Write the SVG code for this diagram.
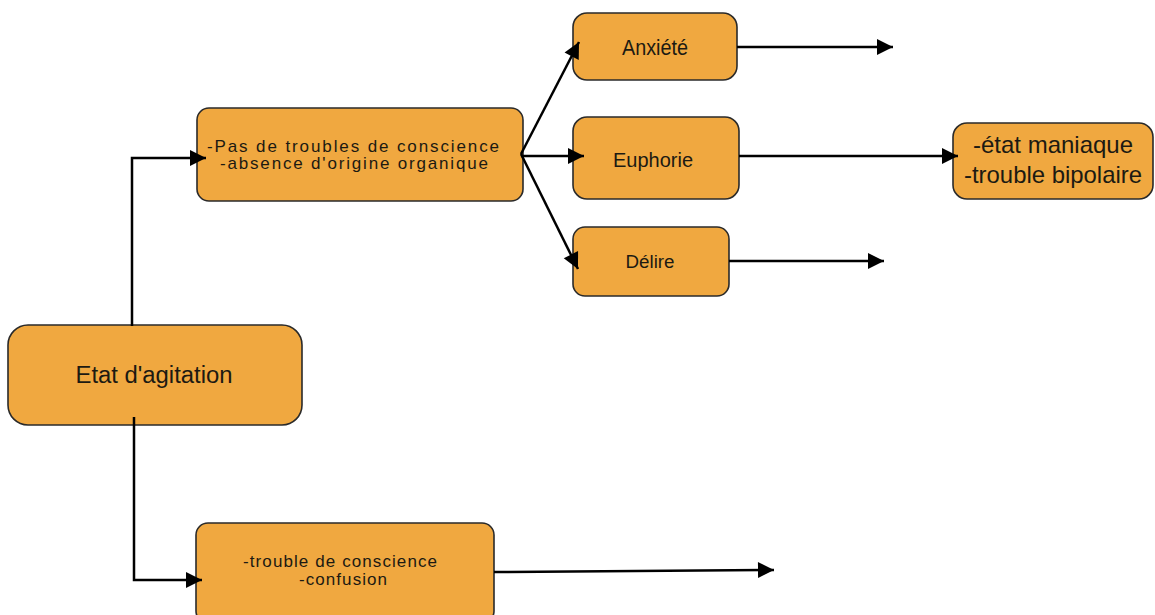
<svg xmlns="http://www.w3.org/2000/svg" width="1155" height="615" viewBox="0 0 1155 615">
  <style>
    .box { fill: #f0a840; stroke: #2a2a2a; stroke-width: 1.6; }
    .lbl { font-family: "Liberation Sans", Arial, sans-serif; fill: #1c1a12; text-anchor: middle; }
    .link { fill: none; stroke: #000; stroke-width: 2.5; }
  </style>
  <defs>
    <marker id="arrow" markerUnits="userSpaceOnUse" markerWidth="18" markerHeight="18" refX="16" refY="8" orient="auto" overflow="visible">
      <path d="M0,0 L16,8 L0,16 z" fill="#000"/>
    </marker>
  </defs>

  <rect width="1155" height="615" fill="#fff"/>

  <!-- root node -->
  <g id="node-agitation">
    <rect class="box" x="8" y="325" width="294" height="100" rx="20"/>
    <text class="lbl" x="154" y="383" font-size="23" textLength="157" lengthAdjust="spacingAndGlyphs">Etat d'agitation</text>
  </g>

  <g id="node-sans-trouble">
    <rect class="box" x="197" y="108" width="326" height="93" rx="12"/>
    <text class="lbl" x="353" y="152" font-size="17" textLength="292" lengthAdjust="spacing">-Pas de troubles de conscience</text>
    <text class="lbl" x="354" y="169" font-size="17" textLength="268" lengthAdjust="spacing">-absence d'origine organique</text>
  </g>

  <g id="node-anxiete">
    <rect class="box" x="573" y="13" width="164" height="67" rx="14"/>
    <text class="lbl" x="655" y="55" font-size="22" textLength="66" lengthAdjust="spacingAndGlyphs">Anxiété</text>
  </g>

  <g id="node-euphorie">
    <rect class="box" x="573" y="117" width="166" height="82" rx="14"/>
    <text class="lbl" x="653" y="167" font-size="21" textLength="80" lengthAdjust="spacingAndGlyphs">Euphorie</text>
  </g>

  <g id="node-delire">
    <rect class="box" x="573" y="227" width="156" height="69" rx="12"/>
    <text class="lbl" x="650" y="268" font-size="18" textLength="49" lengthAdjust="spacingAndGlyphs">Délire</text>
  </g>

  <g id="node-maniaque">
    <rect class="box" x="953" y="123" width="200" height="76" rx="14"/>
    <text class="lbl" x="1053" y="153" font-size="24" textLength="160" lengthAdjust="spacingAndGlyphs">-état maniaque</text>
    <text class="lbl" x="1053" y="183" font-size="24" textLength="178" lengthAdjust="spacingAndGlyphs">-trouble bipolaire</text>
  </g>

  <g id="node-confusion">
    <rect class="box" x="196" y="523" width="298" height="100" rx="12"/>
    <text class="lbl" x="340" y="567" font-size="17" textLength="194" lengthAdjust="spacing">-trouble de conscience</text>
    <text class="lbl" x="343" y="585" font-size="17" textLength="88" lengthAdjust="spacing">-confusion</text>
  </g>

  <!-- connectors, drawn last so their heads sit over the box edges -->
  <g id="connectors">
    <path class="link" d="M132,326 L132,158 L206,158" marker-end="url(#arrow)"/>
    <path class="link" d="M134,417 L134,580 L202,580" marker-end="url(#arrow)"/>
    <path class="link" d="M521,154 L579,42" marker-end="url(#arrow)"/>
    <path class="link" d="M521,156 L584,156" marker-end="url(#arrow)"/>
    <path class="link" d="M521,154 L578,269" marker-end="url(#arrow)"/>
    <path class="link" d="M737,47 L893,47" marker-end="url(#arrow)"/>
    <path class="link" d="M739,156 L958,156" marker-end="url(#arrow)"/>
    <path class="link" d="M729,261 L884,261" marker-end="url(#arrow)"/>
    <path class="link" d="M494,572 L774,570" marker-end="url(#arrow)"/>
  </g>
</svg>
